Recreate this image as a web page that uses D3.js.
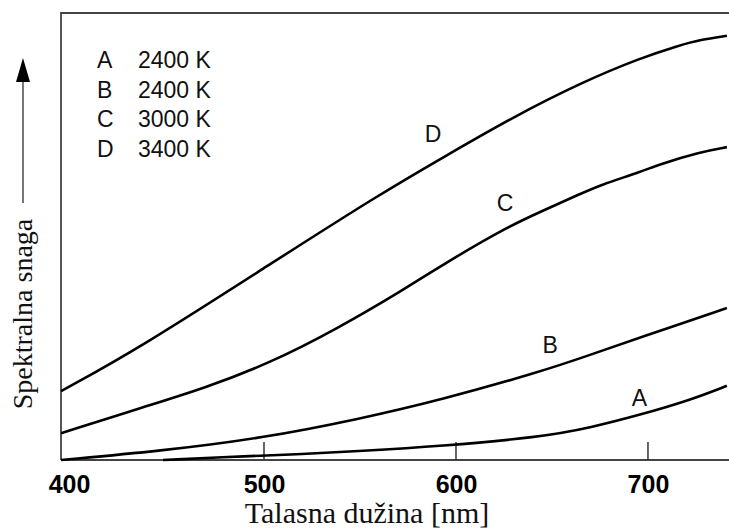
<!DOCTYPE html>
<html>
<head>
<meta charset="utf-8">
<script src="https://cdn.jsdelivr.net/npm/d3@7"></script>
<style>
body{margin:0;background:#fff;}
svg{display:block;}
</style>
</head>
<body>
<div id="chart"></div>
<script>
// wavelength [nm] and relative power
var waveD = [394.3, 435.4, 503.1, 560.4, 595.3, 629.7, 664.6, 695.8, 716.7, 727.1, 741.1];
var powerD = [15.4, 25.1, 43.8, 59.5, 68.2, 76.7, 84.3, 89.9, 92.8, 94.0, 94.9];
var waveC = [394.3, 435.4, 469.3, 503.1, 537.0, 572.4, 595.3, 626.6, 643.8, 664.6, 675.0, 695.8, 706.3, 727.1, 741.1];
var powerC = [6.0, 11.6, 16.1, 21.7, 29.1, 38.0, 44.3, 52.1, 55.5, 59.5, 61.5, 64.4, 66.2, 68.9, 70.0];
var waveB = [394.3, 445.8, 499.5, 550.0, 591.7, 643.8, 669.8, 695.8, 741.1];
var powerB = [0, 2.0, 4.9, 9.2, 13.4, 19.7, 23.5, 27.4, 34.0];
var waveA = [447.4, 492.7, 518.8, 550.0, 591.7, 643.8, 669.8, 695.8, 721.9, 741.1];
var powerA = [0, 0.9, 1.3, 2.0, 3.1, 5.1, 7.2, 10.1, 13.4, 16.6];

var ticks = [500, 600, 700];
var tickLabels = [400, 500, 600, 700];
var legendNames = ["A", "B", "C", "D"];
var legendTemps = ["2400 K", "2400 K", "3000 K", "3400 K"];
var curveNames = ["A", "B", "C", "D"];
// label position of each curve letter (nm, power)
var labelWave = [695.5, 649, 625.5, 588];
var labelPower = [12.1, 23.9, 55.7, 71.1];

var W = 729, H = 528;
var mLeft = 61, mRight = 729, mTop = 13, mBottom = 460;

var svg = d3.select("#chart").append("svg")
	.attr("width", W)
	.attr("height", H);

var x = d3.scaleLinear().domain([394.27, 742.2]).range([mLeft, mRight]);
var y = d3.scaleLinear().domain([0, 100]).range([mBottom, mTop]);

// frame: left and top border
svg.append("path")
	.attr("d", "M" + mLeft + "," + mBottom + "V" + mTop + "H" + mRight)
	.attr("fill", "none")
	.attr("stroke", "#444")
	.attr("stroke-width", 1.8);

// x axis
var xAxis = d3.axisBottom(x).tickValues(tickLabels).tickSize(0).tickPadding(15).tickFormat(d3.format("d"));
var gx = svg.append("g")
	.attr("transform", "translate(0," + mBottom + ")")
	.call(xAxis);
gx.select(".domain").remove();
gx.selectAll("text")
	.attr("font-family", "Liberation Sans, Arial, sans-serif")
	.attr("font-weight", "bold")
	.attr("font-size", "25px")
	.attr("fill", "#000");
gx.selectAll(".tick").filter(function(d){ return d == 400; }).select("text").attr("dx", "-3");

svg.append("line")
	.attr("x1", mLeft).attr("x2", mRight)
	.attr("y1", mBottom).attr("y2", mBottom)
	.attr("stroke", "#444")
	.attr("stroke-width", 1.8);

svg.selectAll(".tk").data(ticks).enter().append("line")
	.attr("class", "tk")
	.attr("x1", function(d){ return x(d); })
	.attr("x2", function(d){ return x(d); })
	.attr("y1", mBottom)
	.attr("y2", mBottom - 18)
	.attr("stroke", "#333")
	.attr("stroke-width", 1.5);

// curves
var line = d3.line()
	.x(function(d){ return x(d[0]); })
	.y(function(d){ return y(d[1]); })
	.curve(d3.curveBasis);

var series = [
	d3.zip(waveA, powerA),
	d3.zip(waveB, powerB),
	d3.zip(waveC, powerC),
	d3.zip(waveD, powerD)
];
svg.selectAll(".curve").data(series).enter().append("path")
	.attr("class", "curve")
	.attr("d", line)
	.attr("fill", "none")
	.attr("stroke", "#000")
	.attr("stroke-width", 2.6);

svg.selectAll(".clab").data(curveNames).enter().append("text")
	.attr("class", "clab")
	.attr("x", function(d, i){ return x(labelWave[i]); })
	.attr("y", function(d, i){ return y(labelPower[i]); })
	.attr("text-anchor", "middle")
	.attr("font-family", "Liberation Sans, Arial, sans-serif")
	.attr("font-size", "23px")
	.attr("fill", "#111")
	.text(function(d){ return d; });

// legend
var leg = svg.append("g").attr("font-family", "Liberation Sans, Arial, sans-serif")
	.attr("font-size", "23px").attr("fill", "#111");
leg.selectAll(".ln").data(legendNames).enter().append("text")
	.attr("x", 97)
	.attr("y", function(d, i){ return 68 + i * 29.6; })
	.text(function(d){ return d; });
leg.selectAll(".lt").data(legendTemps).enter().append("text")
	.attr("x", 138)
	.attr("y", function(d, i){ return 68 + i * 29.6; })
	.text(function(d){ return d; });

// axis titles
svg.append("text")
	.attr("x", 367)
	.attr("y", 523)
	.attr("text-anchor", "middle")
	.attr("font-family", "Liberation Serif, Times New Roman, serif")
	.attr("font-size", "30px")
	.attr("fill", "#111")
	.text("Talasna dužina [nm]");

svg.append("text")
	.attr("transform", "translate(32,314) rotate(-90)")
	.attr("text-anchor", "middle")
	.attr("font-family", "Liberation Serif, Times New Roman, serif")
	.attr("font-size", "28px")
	.attr("fill", "#111")
	.text("Spektralna snaga");

// arrow next to y title
svg.append("line")
	.attr("x1", 23).attr("x2", 23)
	.attr("y1", 203).attr("y2", 78)
	.attr("stroke", "#555")
	.attr("stroke-width", 1.6);
svg.append("path")
	.attr("d", "M23,58L30,82L16,82Z")
	.attr("fill", "#000");
</script>
</body>
</html>
